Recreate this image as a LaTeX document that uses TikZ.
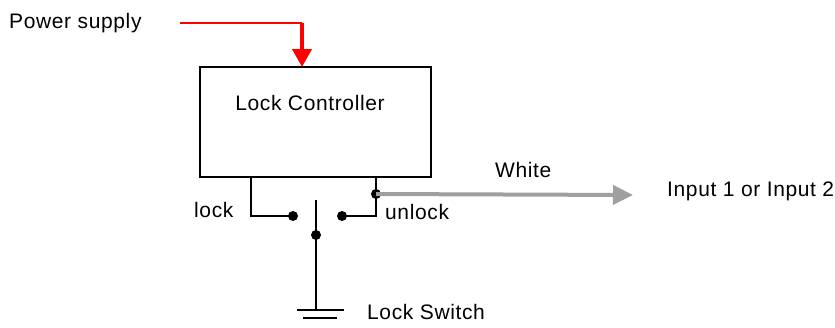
\documentclass[tikz,border=0pt]{standalone}
\usepackage{fontspec}
\setmainfont{Liberation Sans}[LetterSpace=3]
\usetikzlibrary{arrows.meta}
\begin{document}
\begin{tikzpicture}[x=1pt,y=-1pt,
  lbl/.style={inner sep=0pt,anchor=west,font=\fontsize{21}{24}\selectfont},
  wire/.style={line width=2.4pt,black},
  dotc/.style={circle,fill=black,inner sep=0pt,minimum size=10pt},
  pt/.style={inner sep=0pt,minimum size=0pt}]
\useasboundingbox (0,0) rectangle (835,327);
% box
\node[draw,line width=2.4pt,minimum width=231pt,minimum height=110pt,anchor=north west,inner sep=0pt] (ctrl) at (199,66) {};
\node[lbl,anchor=center] (ctrltxt) at (310,103) {Lock Controller};
% power supply
\node[lbl] (ps) at (9,23) {Power supply};
\coordinate (psA) at (180,23);
\coordinate (psB) at (302,23);
\coordinate (psC) at (302,67);
\draw[red,line width=2.4pt] (psA) -- (psB);
\draw[red,line width=4pt,-{Triangle[width=19pt,length=18pt]}] (psB) -- (psC);
% wires
\coordinate (lt) at (251,176);
\coordinate (lb) at (251,216);
\node[dotc] (ldot) at (293,216) {};
\coordinate (rt) at (376,176);
\node[dotc] (jdot) at (376,194) {};
\coordinate (rb) at (376,216);
\node[dotc] (rdot) at (342,216) {};
\draw[wire] (lt) -- (lb) -- (ldot.center);
\draw[wire] (rt) -- (jdot.center) -- (rb) -- (rdot.center);
% lever
\coordinate (lvtop) at (316,200);
\node[dotc] (pivot) at (316,235) {};
\coordinate (gnd) at (316,310);
\draw[wire] (lvtop) -- (gnd);
\coordinate (g1a) at (297,310); \coordinate (g1b) at (344,310);
\coordinate (g2a) at (303,318); \coordinate (g2b) at (337,318);
\draw[wire] (g1a) -- (g1b);
\draw[wire] (g2a) -- (g2b);
% gray arrow
\coordinate (wend) at (633,195);
\draw[line width=4pt,gray!75,-{Triangle[width=19pt,length=20pt]}] (jdot.center) -- (wend);
% labels
\node[lbl] (lock) at (194,210) {lock};
\node[lbl] (unlock) at (385,212) {unlock};
\node[lbl] (white) at (495,170) {White};
\node[lbl] (inp) at (667,191) {Input 1 or Input 2};
\node[lbl] (ls) at (367,312) {Lock Switch};
\end{tikzpicture}
\end{document}
